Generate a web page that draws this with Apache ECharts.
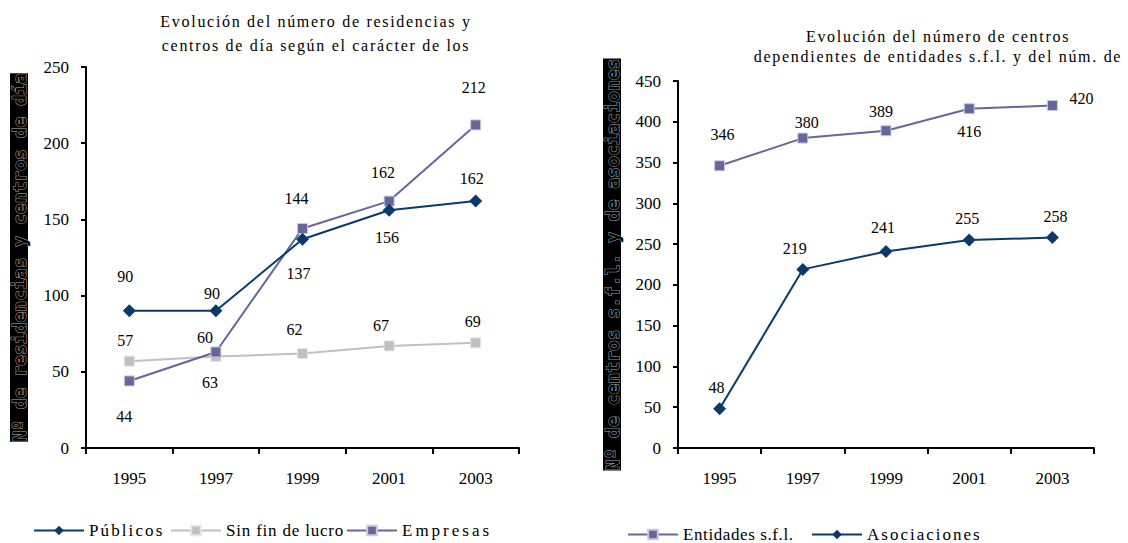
<!DOCTYPE html>
<html><head><meta charset="utf-8">
<script src="https://cdn.jsdelivr.net/npm/echarts@6/dist/echarts.min.js"></script>
<style>
html,body{margin:0;padding:0;background:#fff}
#c{width:1128px;height:543px}
#c text[style*="ttlsp"]{letter-spacing:1.7px}
#c text[style*="lgdA"]{letter-spacing:2.1px}
#c text[style*="lgdB"]{letter-spacing:0.8px}
#c text[style*="lgdC"]{letter-spacing:3.0px}
#c text[style*="lgdD"]{letter-spacing:0.6px}
#c text[style*="lgdE"]{letter-spacing:2.0px}
</style></head><body><div id="c"></div>
<script>
// ---- data ----
const years = ['1995', '1997', '1999', '2001', '2003'];
const publicos = [90, 90, 137, 156, 162];
const sinFinLucro = [57, 60, 62, 67, 69];
const empresas = [44, 63, 144, 162, 212];
const entidadesSfl = [346, 380, 389, 416, 420];
const asociaciones = [48, 219, 241, 255, 258];
const leftAxisMax = 250;
const rightAxisMax = 450;
const axisStep = 50;
const leftTitle = 'Evolución del número de residencias y\ncentros de día según el carácter de los';
const rightTitle = 'Evolución del número de centros\ndependientes de entidades s.f.l. y del núm. de';
const leftYName = 'Nº de residencias y centros de día';
const rightYName = 'Nº de centros s.f.l. y de asociaciones';

// ---- label placement (style only) ----
const offPublicos = [[-4,-34],[-4,-17],[-4,34],[-2,27],[-4,-23]];
const offSinFin = [[-4,-21],[-11,-19],[-8,-24],[-8,-20],[-3,-21]];
const offEmpresas = [[-5,36],[-6,31],[-6,-30],[-6,-29],[-2,-37]];
const offEntidades = [[3,-31],[4,-16],[-5,-19],[0,23],[29,-7]];
const offAsoc = [[-3,-21],[-8,-21],[-3,-24],[-2,-22],[3,-21]];

const NAVY = '#0a3a6c', PURPLE = '#666699', GRAY = '#c0c0c0';
const SERIF = 'Liberation Serif';

function mk(name, values, idx, color, symbol, size, border, offs, z) {
  return {
    name, type: 'line', xAxisIndex: idx, yAxisIndex: idx, z,
    data: values.map((v, i) => ({ value: v, label: { offset: offs[i] } })),
    symbol, symbolSize: size, showAllSymbol: true,
    lineStyle: { color, width: 2 },
    itemStyle: { color, borderColor: border || color, borderWidth: border ? 1 : 0 },
    label: { show: true, position: 'inside', color: '#000', fontSize: 16, fontFamily: SERIF },
    emphasis: { disabled: true }
  };
}

function xAx(idx) {
  return {
    type: 'category', gridIndex: idx, data: years, boundaryGap: true,
    axisLine: { lineStyle: { color: '#000', width: 2 } },
    axisTick: { show: true, length: 6, lineStyle: { color: '#000', width: 2 } },
    axisLabel: { color: '#000', fontSize: 17, fontFamily: SERIF, margin: 22 }
  };
}
function yAx(idx, max, name, nameLen, gap) {
  return {
    type: 'value', gridIndex: idx, min: 0, max, interval: axisStep,
    name, nameLocation: 'middle', nameGap: gap, nameRotate: 90,
    nameTextStyle: {
      fontFamily: 'DejaVu Sans Mono', fontWeight: 'bold', fontSize: 18,
      color: '#000', textBorderColor: '#a8a8a8', textBorderWidth: 1,
      backgroundColor: '#000', width: nameLen, overflow: 'truncate', ellipsis: '',
      lineHeight: 18, padding: 0, align: 'center'
    },
    axisLine: { show: true, lineStyle: { color: '#000', width: 2 } },
    axisTick: { show: true, length: 5, lineStyle: { color: '#000', width: 2 } },
    splitLine: { show: false },
    axisLabel: { color: '#000', fontSize: 17, fontFamily: SERIF, margin: 17 }
  };
}
function lg(name, left, top, sp) {
  return {
    data: [name], left, top, padding: 0, itemWidth: 50, itemHeight: 12, itemGap: 0,
    textStyle: { color: '#000', fontSize: 17, fontFamily: SERIF + ', ' + sp },
    selectedMode: false
  };
}

const chart = echarts.init(document.getElementById('c'), null, { renderer: 'svg' });
chart.setOption({
  backgroundColor: '#fff',
  animation: false,
  title: [
    { text: leftTitle, left: 311, top: 4, textAlign: 'center',
      textStyle: { fontSize: 16, fontWeight: 'normal', color: '#000', lineHeight: 24, fontFamily: SERIF + ', ttlsp' } },
    { text: rightTitle, left: 933, top: 21, textAlign: 'center',
      textStyle: { fontSize: 16, fontWeight: 'normal', color: '#000', lineHeight: 20, fontFamily: SERIF + ', ttlsp' } }
  ],
  grid: [
    { left: 86, top: 67, width: 433, height: 381 },
    { left: 678, top: 81, width: 416, height: 367 }
  ],
  xAxis: [xAx(0), xAx(1)],
  yAxis: [yAx(0, leftAxisMax, leftYName, 367, 58), yAx(1, rightAxisMax, rightYName, 393, 57)],
  legend: [
    lg('Públicos', 33, 522, 'lgdA'), lg('Sin fin de lucro', 170, 522, 'lgdB'), lg('Empresas', 346, 522, 'lgdC'),
    lg('Entidades s.f.l.', 627, 526, 'lgdD'), lg('Asociaciones', 811, 526, 'lgdE')
  ],
  series: [
    mk('Sin fin de lucro', sinFinLucro, 0, GRAY, 'rect', 10, '#e4e4e4', offSinFin, 2),
    mk('Empresas', empresas, 0, PURPLE, 'rect', 10, '#c9c9e0', offEmpresas, 3),
    mk('Públicos', publicos, 0, NAVY, 'diamond', 13, null, offPublicos, 4),
    mk('Entidades s.f.l.', entidadesSfl, 1, PURPLE, 'rect', 10, '#c9c9e0', offEntidades, 3),
    mk('Asociaciones', asociaciones, 1, NAVY, 'diamond', 13, null, offAsoc, 4)
  ]
});
</script></body></html>
